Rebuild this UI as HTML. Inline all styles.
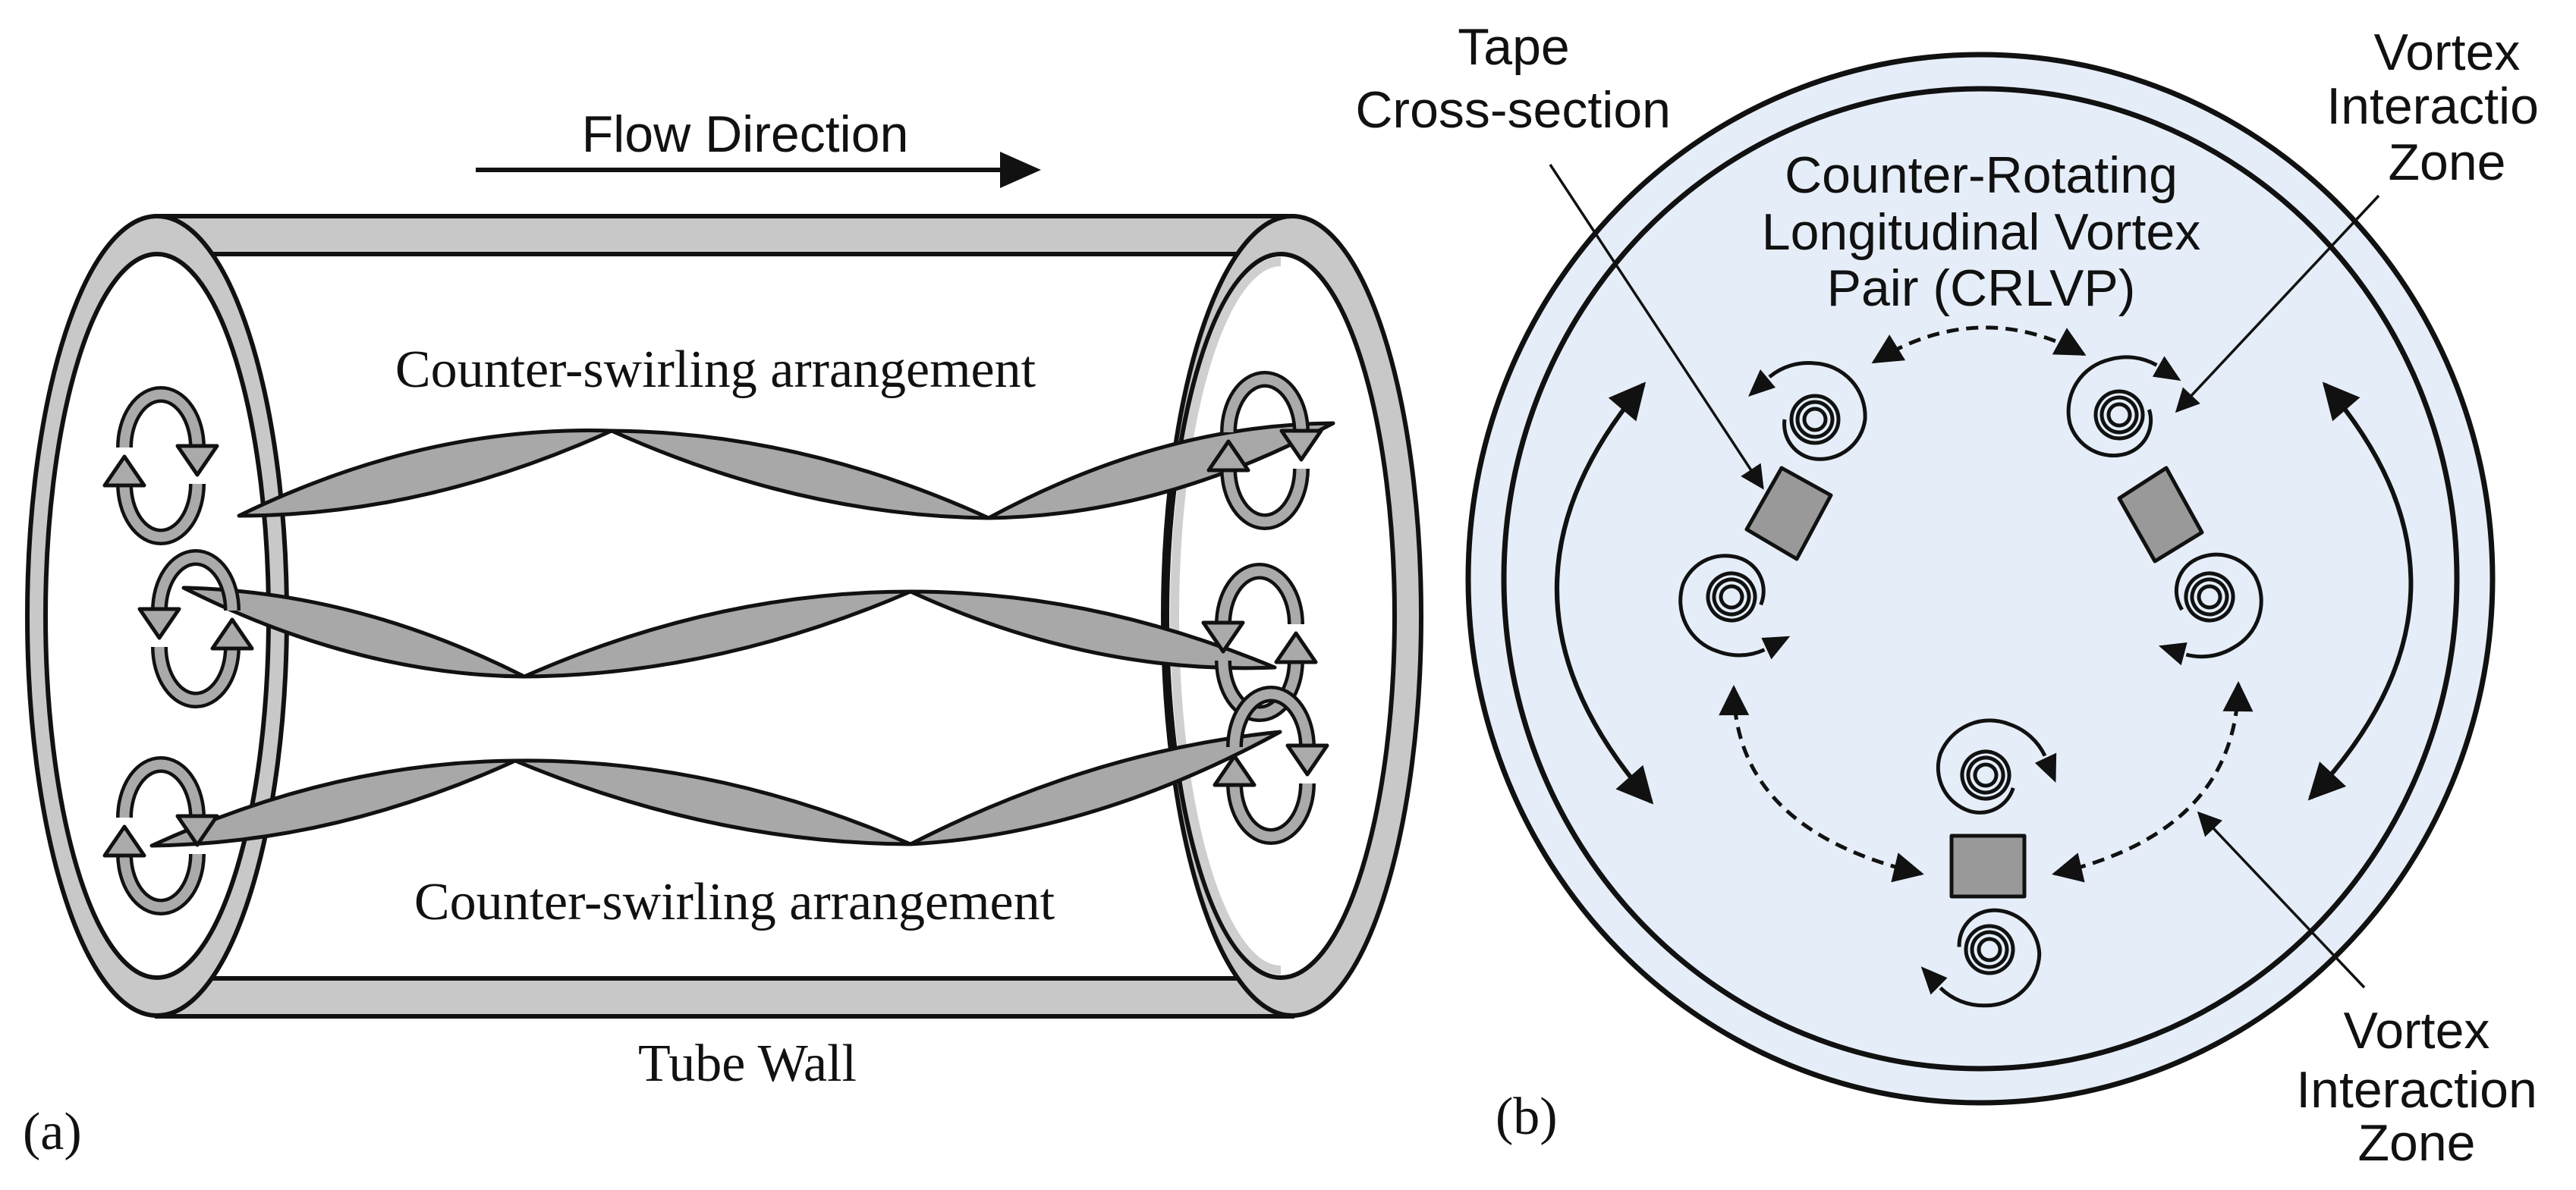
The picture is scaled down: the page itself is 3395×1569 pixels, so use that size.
<!DOCTYPE html>
<html><head><meta charset="utf-8"><style>
html,body{margin:0;padding:0;background:#fff;}
svg{display:block;}
.sans{font-family:"Liberation Sans",Arial,sans-serif;font-size:68px;fill:#111;}
.serif{font-family:"Liberation Serif","Times New Roman",serif;font-size:70px;fill:#111;}
</style></head><body>
<svg width="3395" height="1569" viewBox="0 0 3395 1569" xmlns="http://www.w3.org/2000/svg">
<defs>
<marker id="ah" viewBox="0 0 10 10" refX="9" refY="5" markerWidth="11" markerHeight="9" orient="auto-start-reverse" markerUnits="strokeWidth"><path d="M0,0 L10,5 L0,10 z" fill="#111"/></marker>
<marker id="ah2" viewBox="0 0 10 10" refX="9" refY="5" markerWidth="9" markerHeight="8" orient="auto-start-reverse" markerUnits="strokeWidth"><path d="M0,0 L10,5 L0,10 z" fill="#111"/></marker>
<g id="sw">
  <path d="M-48,-10 A48 70 0 0 1 48,-10" fill="none" stroke="#111" stroke-width="22"/>
  <path d="M-48,-10 A48 70 0 0 1 48,-10" fill="none" stroke="#aaa" stroke-width="13"/>
  <polygon points="22,-12 74,-12 48,26" fill="#aaa" stroke="#111" stroke-width="5" stroke-linejoin="round"/>
  <path d="M48,38 A48 70 0 0 1 -48,38" fill="none" stroke="#111" stroke-width="22"/>
  <path d="M48,38 A48 70 0 0 1 -48,38" fill="none" stroke="#aaa" stroke-width="13"/>
  <polygon points="-74,40 -22,40 -48,2" fill="#aaa" stroke="#111" stroke-width="5" stroke-linejoin="round"/>
</g>
<g id="sp">
  <circle r="14" fill="none" stroke="#111" stroke-width="5"/>
  <circle r="23" fill="none" stroke="#111" stroke-width="5"/>
  <circle r="31" fill="none" stroke="#111" stroke-width="5"/>
  <path d="M40,0 A46 46 0 0 1 0,52 A60 60 0 0 1 -66,0 A70 70 0 0 1 0,-74 A80 80 0 0 1 60,-56" fill="none" stroke="#111" stroke-width="5"/>
  <polygon points="88,-30 52,-42 72,-66" fill="#111"/>
</g>
</defs>

<!-- (a) -->
<text class="sans" x="982" y="200" text-anchor="middle">Flow Direction</text>
<line x1="627" y1="224" x2="1330" y2="224" stroke="#111" stroke-width="6"/>
<polygon points="1318,200 1372,224 1318,248" fill="#111"/>

<rect x="207" y="285" width="1496" height="50" fill="#c8c8c8" stroke="#111" stroke-width="6"/>
<rect x="207" y="1290" width="1496" height="50" fill="#c8c8c8" stroke="#111" stroke-width="6"/>
<ellipse cx="1703" cy="812" rx="170" ry="527" fill="#c8c8c8" stroke="#111" stroke-width="6"/>
<ellipse cx="1688" cy="812" rx="150" ry="477" fill="#fff" stroke="#111" stroke-width="6"/>
<path d="M1688,345 A140 467 0 0 0 1688,1279" fill="none" stroke="#cfcfcf" stroke-width="12"/>
<ellipse cx="207" cy="812" rx="171" ry="527" fill="#c8c8c8" stroke="#111" stroke-width="6"/>
<ellipse cx="207" cy="812" rx="147" ry="477" fill="#fff" stroke="#111" stroke-width="6"/>

<g fill="#a8a8a8" stroke="#111" stroke-width="5" stroke-linejoin="round">
  <path d="M315,680 Q560,560 806,568 Q560,680 315,680 Z"/>
  <path d="M806,568 Q1055,570 1303,683 Q1055,680 806,568 Z"/>
  <path d="M1303,683 Q1530,560 1757,558 Q1530,680 1303,683 Z"/>
  <path d="M242,775 Q470,780 691,892 Q470,890 242,775 Z"/>
  <path d="M691,892 Q945,780 1200,780 Q945,890 691,892 Z"/>
  <path d="M1200,780 Q1440,780 1680,880 Q1440,890 1200,780 Z"/>
  <path d="M200,1115 Q440,1005 679,1003 Q440,1112 200,1115 Z"/>
  <path d="M679,1003 Q940,1000 1200,1113 Q940,1112 679,1003 Z"/>
  <path d="M1200,1113 Q1440,990 1687,965 Q1440,1100 1200,1113 Z"/>
</g>

<use href="#sw" transform="translate(212,600)"/>
<use href="#sw" transform="translate(258,815) scale(-1,1)"/>
<use href="#sw" transform="translate(212,1088)"/>
<use href="#sw" transform="translate(1667,580)"/>
<use href="#sw" transform="translate(1660,833) scale(-1,1)"/>
<use href="#sw" transform="translate(1675,995)"/>

<text class="serif" x="943" y="510" text-anchor="middle">Counter-swirling arrangement</text>
<text class="serif" x="968" y="1212" text-anchor="middle">Counter-swirling arrangement</text>
<text class="serif" x="985" y="1425" text-anchor="middle">Tube Wall</text>
<text class="serif" x="30" y="1515">(a)</text>

<!-- (b) -->
<ellipse cx="2610" cy="763" rx="675" ry="691" fill="#e5eef8" stroke="#111" stroke-width="7"/>
<ellipse cx="2610" cy="763" rx="628" ry="646" fill="#e5eef8" stroke="#111" stroke-width="7"/>

<path d="M2166,507 Q1933,782 2176,1057" fill="none" stroke="#111" stroke-width="6" marker-start="url(#ah2)" marker-end="url(#ah2)"/>
<path d="M3064,507 Q3300,780 3045,1052" fill="none" stroke="#111" stroke-width="6" marker-start="url(#ah2)" marker-end="url(#ah2)"/>
<g fill="none" stroke="#111" stroke-width="5" stroke-dasharray="16,10">
  <path d="M2470,477 Q2608,392 2746,467" marker-start="url(#ah2)" marker-end="url(#ah2)"/>
  <path d="M2285,907 Q2286,1094 2532,1152" marker-start="url(#ah2)" marker-end="url(#ah2)"/>
  <path d="M2950,902 Q2947,1097 2708,1152" marker-start="url(#ah2)" marker-end="url(#ah2)"/>
</g>

<g fill="#999" stroke="#111" stroke-width="5" stroke-linejoin="round">
  <polygon points="2348,617 2413,653 2368,737 2302,698"/>
  <polygon points="2793,657 2855,617 2902,702 2840,740"/>
  <rect x="2572" y="1102" width="96" height="80"/>
</g>

<use href="#sp" transform="translate(2392,553) scale(-1,1)"/>
<use href="#sp" transform="translate(2793,547) rotate(-10)"/>
<use href="#sp" transform="translate(2282,787) rotate(195) scale(-1,1)"/>
<use href="#sp" transform="translate(2912,787) rotate(155)"/>
<use href="#sp" transform="translate(2617,1022) rotate(25)"/>
<use href="#sp" transform="translate(2622,1252) rotate(185)"/>

<g stroke="#111" stroke-width="3.5" fill="none">
  <line x1="2043" y1="217" x2="2323" y2="643" marker-end="url(#ah)"/>
  <line x1="3135" y1="258" x2="2869" y2="542" marker-end="url(#ah)"/>
  <line x1="3116" y1="1302" x2="2898" y2="1072" marker-end="url(#ah)"/>
</g>

<text class="sans" x="1995" y="85" text-anchor="middle">Tape</text>
<text class="sans" x="2202" y="168" text-anchor="end">Cross-section</text>
<text class="sans" x="2611" y="254" text-anchor="middle">Counter-Rotating</text>
<text class="sans" x="2611" y="329" text-anchor="middle">Longitudinal Vortex</text>
<text class="sans" x="2611" y="403" text-anchor="middle">Pair (CRLVP)</text>
<text class="sans" x="3225" y="92" text-anchor="middle">Vortex</text>
<text class="sans" x="3225" y="163" text-anchor="middle">Interaction</text>
<text class="sans" x="3225" y="237" text-anchor="middle">Zone</text>
<rect x="3350" y="0" width="45" height="300" fill="#fff"/>
<text class="sans" x="3185" y="1382" text-anchor="middle">Vortex</text>
<text class="sans" x="3185" y="1460" text-anchor="middle">Interaction</text>
<text class="sans" x="3185" y="1530" text-anchor="middle">Zone</text>
<text class="serif" x="1971" y="1495">(b)</text>
</svg>
</body></html>
